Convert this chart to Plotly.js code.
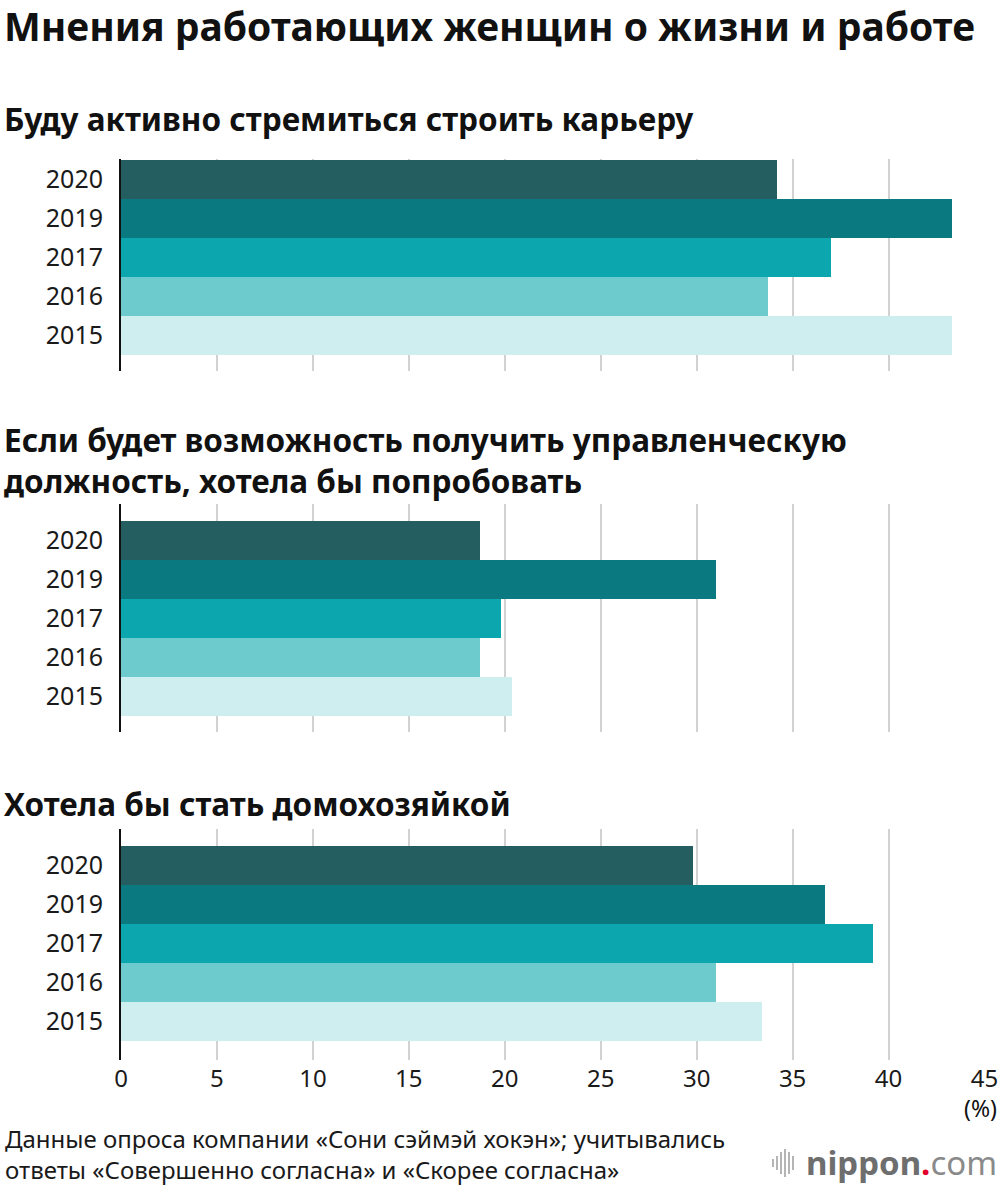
<!DOCTYPE html>
<html>
<head>
<meta charset="utf-8">
<script src="https://cdn.plot.ly/plotly-3.0.1.min.js"></script>
<style>html,body{margin:0;padding:0;background:#fff;}#chart{width:1000px;height:1186px;}</style>
</head>
<body>
<div id="chart"></div>
<script>
const years = ['2020', '2019', '2017', '2016', '2015'];
const careerValues = [34.2, 43.3, 37.0, 33.7, 43.3];
const managerValues = [18.7, 31.0, 19.8, 18.7, 20.4];
const housewifeValues = [29.8, 36.7, 39.2, 31.0, 33.4];
const xTicks = [0, 5, 10, 15, 20, 25, 30, 35, 40, 45];

const mainTitle = 'Мнения работающих женщин о жизни и работе';
const panelTitles = [
  'Буду активно стремиться строить карьеру',
  'Если будет возможность получить управленческую<br>должность, хотела бы попробовать',
  'Хотела бы стать домохозяйкой'
];
const unitLabel = '(%)';
const sourceNote = 'Данные опроса компании «Сони сэймэй хокэн»; учитывались<br>ответы «Совершенно согласна» и «Скорее согласна»';

const yearColors = ['#245e60', '#0b7a80', '#0ca6ae', '#6dcacd', '#cfeef0'];
const FONT = '"Noto Sans", "Open Sans", sans-serif';
const W = 1000, H = 1186;

const panels = [careerValues, managerValues, housewifeValues];
const suffix = ['', '2', '3'];
const boxes = [[159, 371], [504, 732], [829, 1060]];
const barTops = [160, 521, 846];
const bandPx = 39;

const traces = panels.map((vals, i) => ({
  type: 'bar',
  orientation: 'h',
  x: vals,
  y: years,
  width: 1,
  marker: {color: yearColors, line: {width: 0}},
  xaxis: 'x' + suffix[i],
  yaxis: 'y' + suffix[i],
  hoverinfo: 'x+y',
  showlegend: false
}));

const layout = {
  width: W, height: H,
  margin: {l: 0, r: 0, t: 0, b: 0},
  paper_bgcolor: '#fff',
  plot_bgcolor: 'rgba(0,0,0,0)',
  bargap: 0,
  font: {family: FONT, color: '#1a1a1a'},
  annotations: [],
  shapes: []
};

panels.forEach((vals, i) => {
  const [top, bot] = boxes[i];
  const barBottom = barTops[i] + bandPx * years.length;
  const rTop = -0.5 - (barTops[i] - top) / bandPx;
  const rBot = (years.length - 0.5) + (bot - barBottom) / bandPx;
  layout['xaxis' + suffix[i]] = {
    domain: [121 / W, 984.5 / W],
    range: [0, 45],
    anchor: 'y' + suffix[i],
    tickvals: xTicks,
    showgrid: true,
    gridcolor: '#d2d2d2',
    gridwidth: 2,
    zeroline: false,
    showline: false,
    ticks: '',
    showticklabels: i === 2,
    tickfont: {size: 24, color: '#1a1a1a', family: FONT},
    ticklabelstandoff: 2,
    fixedrange: true
  };
  layout['yaxis' + suffix[i]] = {
    domain: [1 - bot / H, 1 - top / H],
    type: 'category',
    categoryorder: 'array',
    categoryarray: years,
    range: [rBot, rTop],
    anchor: 'x' + suffix[i],
    showgrid: false,
    zeroline: false,
    showline: true,
    linecolor: '#111',
    linewidth: 2,
    ticks: '',
    tickfont: {size: 25, color: '#1a1a1a', family: FONT},
    ticklabelstandoff: 11,
    fixedrange: true
  };
});

const ann = layout.annotations;
function addText(text, px, py, size, opts) {
  ann.push(Object.assign({text: text, xref: 'paper', yref: 'paper', x: px / W, y: 1 - py / H,
    xanchor: 'left', yanchor: 'middle', align: 'left', showarrow: false,
    font: {size: size, family: FONT, color: '#111'}}, opts || {}));
}
addText('<b>' + mainTitle + '</b>', 2, 26, 39);
const subY = [118, 460, 803];
panelTitles.forEach((t, i) => addText('<b>' + t.replace('<br>', '</b><br><b>') + '</b>', 2, subY[i], 31.5));
addText(unitLabel, 999, 1108, 23, {xanchor: 'right'});
addText(sourceNote, 3, 1154, 24, {font: {size: 24, family: FONT, color: '#1a1a1a'}});
// logo
addText('<b>nippon</b><span style="color:#e4002b"><b>.</b></span><span style="color:#8a8a8a">com</span>',
  999, 1162, 33, {xanchor: 'right', font: {size: 33, family: FONT, color: '#6e6e6e'}});
const logoBars = [[773, 8], [777, 14], [781, 22], [785, 28], [789, 22], [793, 14]];
logoBars.forEach(([px, h]) => {
  layout.shapes.push({type: 'line', xref: 'paper', yref: 'paper',
    x0: px / W, x1: px / W, y0: 1 - (1163 + h / 2) / H, y1: 1 - (1163 - h / 2) / H,
    line: {color: '#b5b5b5', width: 2}});
});

Plotly.newPlot('chart', traces, layout, {displayModeBar: false, staticPlot: true});
</script>
</body>
</html>
